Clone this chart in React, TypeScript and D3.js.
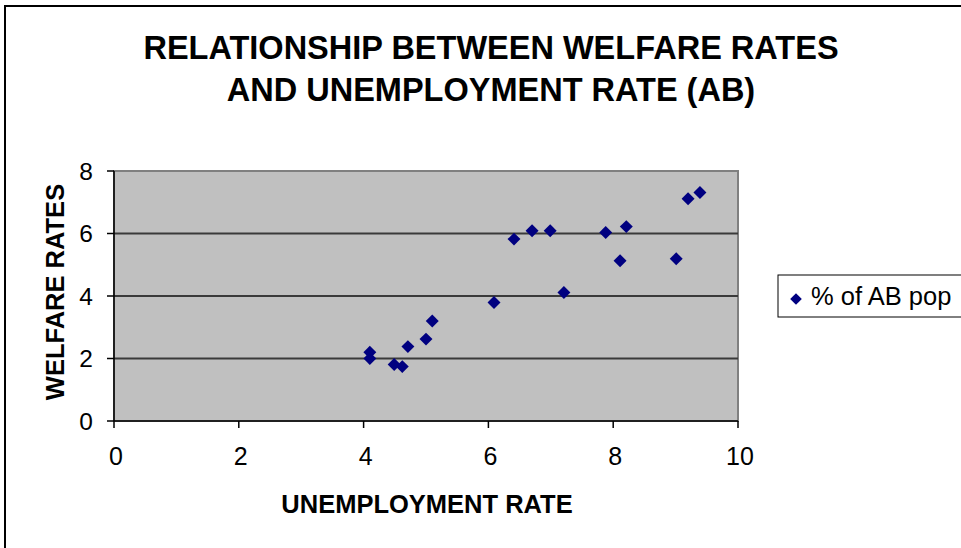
import React from "react";
import * as d3 from "d3";

const unemployment = [4.1, 4.1, 4.49, 4.62, 4.71, 5.0, 5.1, 6.09, 6.41, 6.7, 6.99, 7.21, 7.88, 8.11, 8.21, 9.01, 9.2, 9.39];
const welfare = [2.2, 2.0, 1.81, 1.74, 2.38, 2.62, 3.2, 3.79, 5.82, 6.09, 6.09, 4.11, 6.03, 5.13, 6.22, 5.19, 7.11, 7.31];
const xTicks = [0, 2, 4, 6, 8, 10];
const yTicks = [0, 2, 4, 6, 8];
const titleLines = ["RELATIONSHIP BETWEEN WELFARE RATES", "AND UNEMPLOYMENT RATE (AB)"];
const xTitle = "UNEMPLOYMENT RATE";
const yTitle = "WELFARE RATES";
const seriesName = "% of AB pop";

const W = 961;
const H = 548;
const plot = { left: 114, right: 738, top: 171, bottom: 421 };
const FONT = "'Liberation Sans', Arial, sans-serif";
const NAVY = "#000080";

export default function App() {
  const x = d3.scaleLinear().domain([0, 10]).range([plot.left, plot.right]);
  const y = d3.scaleLinear().domain([0, 8]).range([plot.bottom, plot.top]);
  const diamond = d3.symbol().type(d3.symbolSquare).size(84)() as string;

  return (
    <svg width={W} height={H} style={{ position: "absolute", left: 0, top: 0, background: "#fff" }} fontFamily={FONT}>
      <rect x={0} y={0} width={W} height={H} fill="#fff" />
      {/* outer frame */}
      <path d={`M5,${H + 5} L5,6 L${W + 5},6`} fill="none" stroke="#000" strokeWidth={2} />

      {/* title */}
      {titleLines.map((t, i) => (
        <text key={i} x={491} y={59 + i * 42} textAnchor="middle" fontSize={32.5} fontWeight="bold" fill="#000">
          {t}
        </text>
      ))}

      {/* plot area */}
      <rect x={plot.left} y={plot.top} width={plot.right - plot.left} height={plot.bottom - plot.top} fill="#C0C0C0" stroke="#808080" strokeWidth={2} />
      {yTicks.filter((v) => v > 0 && v < 8).map((v) => (
        <line key={v} x1={plot.left} x2={plot.right} y1={y(v)} y2={y(v)} stroke="#3a3a3a" strokeWidth={1.8} />
      ))}

      {/* axes */}
      <line x1={plot.left} x2={plot.left} y1={plot.top} y2={plot.bottom} stroke="#000" strokeWidth={1.5} />
      <line x1={plot.left} x2={plot.right} y1={plot.bottom} y2={plot.bottom} stroke="#000" strokeWidth={1.5} />
      {yTicks.map((v) => (
        <g key={v}>
          <line x1={plot.left - 7} x2={plot.left} y1={y(v)} y2={y(v)} stroke="#000" strokeWidth={1.5} />
          <text x={93} y={y(v) + 8.5} textAnchor="end" fontSize={24.5} fill="#000">
            {v}
          </text>
        </g>
      ))}
      {xTicks.map((v) => (
        <g key={v}>
          <line x1={x(v)} x2={x(v)} y1={plot.bottom} y2={plot.bottom + 7} stroke="#000" strokeWidth={1.5} />
          <text x={x(v) + 2} y={465} textAnchor="middle" fontSize={25} fill="#000">
            {v}
          </text>
        </g>
      ))}

      {/* axis titles */}
      <text x={427} y={513} textAnchor="middle" fontSize={25.5} fontWeight="bold" fill="#000">
        {xTitle}
      </text>
      <text transform={`translate(64,292) rotate(-90)`} textAnchor="middle" fontSize={25.5} fontWeight="bold" fill="#000">
        {yTitle}
      </text>

      {/* points */}
      {unemployment.map((u, i) => (
        <path key={i} d={diamond} transform={`translate(${x(u)},${y(welfare[i])}) rotate(45)`} fill={NAVY} />
      ))}

      {/* legend */}
      <rect x={778} y={275} width={200} height={42} fill="#fff" stroke="#000" strokeWidth={1} />
      <path d={diamond} transform={`translate(796,299) rotate(45) scale(0.9)`} fill={NAVY} />
      <text x={811} y={305} fontSize={25.5} fill="#000">
        {seriesName}
      </text>
    </svg>
  );
}
